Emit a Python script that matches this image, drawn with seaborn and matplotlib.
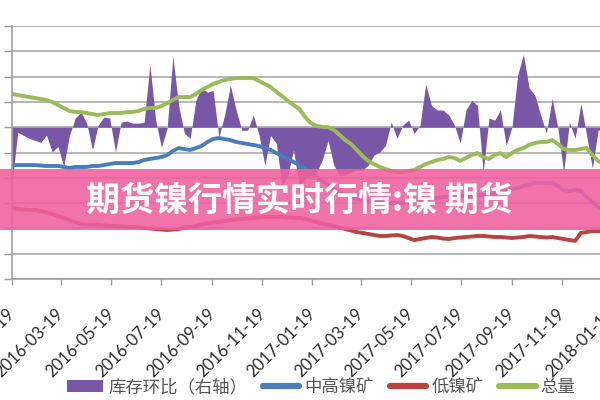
import matplotlib
matplotlib.use("Agg")
import numpy as np
import pandas as pd
import seaborn as sns
import matplotlib.pyplot as plt
from matplotlib.patches import Patch, Rectangle
from matplotlib.lines import Line2D

# ---------------- data (weekly) ----------------
start_date = "2016-01-19"
n_weeks = 104
dates = pd.date_range(start_date, periods=n_weeks, freq="7D")

inventory_mom = [-11.1, -1.0, -1.6, -2.2, -2.6, -3.0, -1.6, -4.9, -3.8, -7.7,
                 -1.6, 1.8, 3.0, 0.8, -4.5, 0.4, 2.0, 1.8, -4.9, 1.0,
                 1.2, 0.8, 0.8, 1.0, 12.4, 1.4, -4.0, -0.2, 14.0, 4.3,
                 -1.2, -2.2, 5.3, 7.9, 6.9, 7.3, -2.0, 2.4, 8.3, 3.4,
                 -0.6, -0.6, 2.4, -1.6, -7.5, -1.6, -3.2, -11.5, -9.5, -4.5,
                 -11.9, -10.1, -9.5, -8.9, -6.5, -2.6, -7.5, -9.5, -9.5, -8.9,
                 -8.5, -8.5, -7.5, -5.5, -4.9, -3.6, 1.0, -2.2, 0.4, 1.4,
                 -1.2, 0.4, 8.5, 4.3, 3.4, 3.4, 2.4, 0.4, -3.2, 3.4,
                 5.3, 4.3, -8.9, 1.8, 1.4, 3.4, -3.6, 0.0, 10.3, 14.4,
                 7.7, 6.3, 2.4, -1.2, 5.7, -0.2, -8.9, 1.0, -2.2, 4.7,
                 -1.6, -8.1, -0.6, -0.2]

mid_high_ore = [1126, 1126, 1126, 1126, 1126, 1121, 1117, 1117, 1117, 1107,
                1097, 1107, 1107, 1107, 1117, 1117, 1126, 1136, 1146, 1146,
                1146, 1146, 1156, 1176, 1186, 1196, 1205, 1225, 1265, 1294,
                1284, 1275, 1294, 1314, 1354, 1383, 1393, 1383, 1373, 1354,
                1344, 1334, 1324, 1314, 1294, 1275, 1245, 1215, 1186, 1156,
                1126, 1087, 1047, 1008, 968, 929, 889, 860, 830, 810,
                790, 781, 771, 761, 751, 751, 751, 751, 751, 761,
                771, 781, 790, 800, 800, 810, 810, 810, 820, 820,
                820, 830, 830, 830, 840, 850, 869, 889, 899, 919,
                929, 949, 949, 949, 949, 919, 879, 869, 879, 869,
                810, 761, 711, 682]

low_ore = [702, 692, 687, 682, 682, 672, 657, 642, 623, 603,
           583, 563, 543, 539, 534, 534, 529, 524, 524, 519,
           514, 514, 509, 504, 499, 494, 489, 484, 489, 494,
           509, 514, 524, 539, 548, 558, 563, 573, 583, 588,
           593, 598, 603, 608, 613, 613, 613, 613, 608, 603,
           603, 593, 578, 563, 548, 534, 524, 509, 494, 479,
           464, 455, 445, 435, 425, 425, 430, 435, 425, 405,
           385, 395, 405, 415, 410, 400, 395, 405, 410, 415,
           420, 425, 425, 420, 415, 415, 410, 405, 410, 415,
           425, 420, 415, 410, 415, 405, 395, 385, 376, 455,
           464, 474, 474, 474]

total = [1828, 1818, 1808, 1798, 1788, 1779, 1769, 1749, 1719, 1690,
         1660, 1650, 1650, 1640, 1630, 1621, 1630, 1640, 1640, 1640,
         1650, 1650, 1660, 1680, 1690, 1690, 1709, 1739, 1769, 1798,
         1798, 1798, 1828, 1868, 1897, 1927, 1947, 1966, 1976, 1986,
         1986, 1986, 1986, 1956, 1927, 1897, 1848, 1808, 1759, 1719,
         1680, 1601, 1541, 1512, 1502, 1502, 1472, 1423, 1373, 1334,
         1275, 1215, 1166, 1136, 1107, 1087, 1067, 1057, 1057, 1067,
         1077, 1107, 1136, 1156, 1176, 1186, 1205, 1196, 1166, 1196,
         1225, 1245, 1205, 1186, 1225, 1245, 1205, 1245, 1275, 1294,
         1324, 1344, 1354, 1354, 1373, 1334, 1285, 1275, 1275, 1285,
         1294, 1225, 1166, 1136]

tick_labels = ["2016-01-19", "2016-03-19", "2016-05-19", "2016-07-19",
               "2016-09-19", "2016-11-19", "2017-01-19", "2017-03-19",
               "2017-05-19", "2017-07-19", "2017-09-19", "2017-11-19",
               "2018-01-19"]

legend_labels = ["库存环比（右轴）", "中高镍矿", "低镍矿", "总量"]
banner_text = "期货镍行情实时行情:镍 期货"

# ---------------- style ----------------
PURPLE = "#7857A6"
BLUE = "#4A7EBB"
RED = "#B8443F"
GREEN = "#9BBB59"
GRID = "#a3a3a3"

sns.set_theme(style="white")
plt.rcParams["font.family"] = ["Noto Sans CJK SC", "DejaVu Sans"]

df = pd.DataFrame({"date": dates, "mom": inventory_mom, "mid": mid_high_ore,
                   "low": low_ore, "total": total})

fig = plt.figure(figsize=(6, 4), dpi=100)
x0 = pd.Timestamp(start_date)
x1 = pd.Timestamp("2018-01-26")
px_per_day = 550 / 670
width_px = (x1 - x0).days * px_per_day
ax = fig.add_axes([12 / 600, 1 - 279 / 400, width_px / 600, 253 / 400])
ax2 = ax.twinx()

# secondary: area
ax2.fill_between(df["date"], 0, df["mom"], color=PURPLE, lw=0, zorder=1)
ax2.set_ylim(-30, 20)
ax2.set_yticks(np.arange(-30, 21, 5))
ax2.yaxis.grid(True, color=GRID, lw=1.1)
ax2.set_axisbelow(True)
ax2.tick_params(right=False, labelright=False)
for s in ax2.spines.values():
    s.set_visible(False)

# primary: lines
for col, c in [("mid", BLUE), ("low", RED), ("total", GREEN)]:
    sns.lineplot(data=df, x="date", y=col, ax=ax, color=c, lw=2.8, legend=False)
ax.set_xlim(x0, x1)
ax.set_ylim(0, 2500)
ax.set_yticks(np.arange(0, 2501, 250))
ax.set_xlabel("")
ax.set_ylabel("")
ax.grid(False)
ax.set_zorder(2)
ax2.set_zorder(1)
ax.patch.set_visible(False)
ax2.patch.set_visible(True)
ax2.patch.set_facecolor("white")
for side in ["top", "right"]:
    ax.spines[side].set_visible(False)
for side in ["left", "bottom"]:
    ax.spines[side].set_color("#9a9a9a")
    ax.spines[side].set_linewidth(1.1)

ax.set_xticks(pd.to_datetime(tick_labels))
ax.set_xticklabels(tick_labels, rotation=45, ha="right", va="center",
                   rotation_mode="anchor", fontsize=12, family="Lato",
                   color="#2b2b2b")
ax.tick_params(axis="x", bottom=True, length=4, width=1, color="#9a9a9a", pad=19)
ax.tick_params(axis="y", left=True, labelleft=False, length=6, width=1,
               color="#9a9a9a")

# legend
handles = [Patch(facecolor=PURPLE, edgecolor="none"),
           Line2D([], [], color=BLUE, lw=4.5, solid_capstyle="round"),
           Line2D([], [], color=RED, lw=4.5, solid_capstyle="round"),
           Line2D([], [], color=GREEN, lw=4.5, solid_capstyle="round")]
fig.legend(handles, legend_labels, loc="center", bbox_to_anchor=(321 / 600, 1 - 387 / 400),
           ncol=4, frameon=False, fontsize=12.5, handlelength=2.1, handletextpad=0.3,
           columnspacing=0.9, labelcolor="#555555")

# pink banner
fig.add_artist(Rectangle((0, 1 - 230 / 400), 1, 61 / 400, transform=fig.transFigure,
                         facecolor="#F0609F", alpha=0.88, edgecolor="none", zorder=10))
fig.text(299 / 600, 1 - 200 / 400, banner_text, ha="center", va="center",
         color="white", fontsize=24.5, fontweight="bold", zorder=11,
         family=["Noto Sans CJK SC", "DejaVu Sans"])

fig.savefig("out.png", dpi=100)
